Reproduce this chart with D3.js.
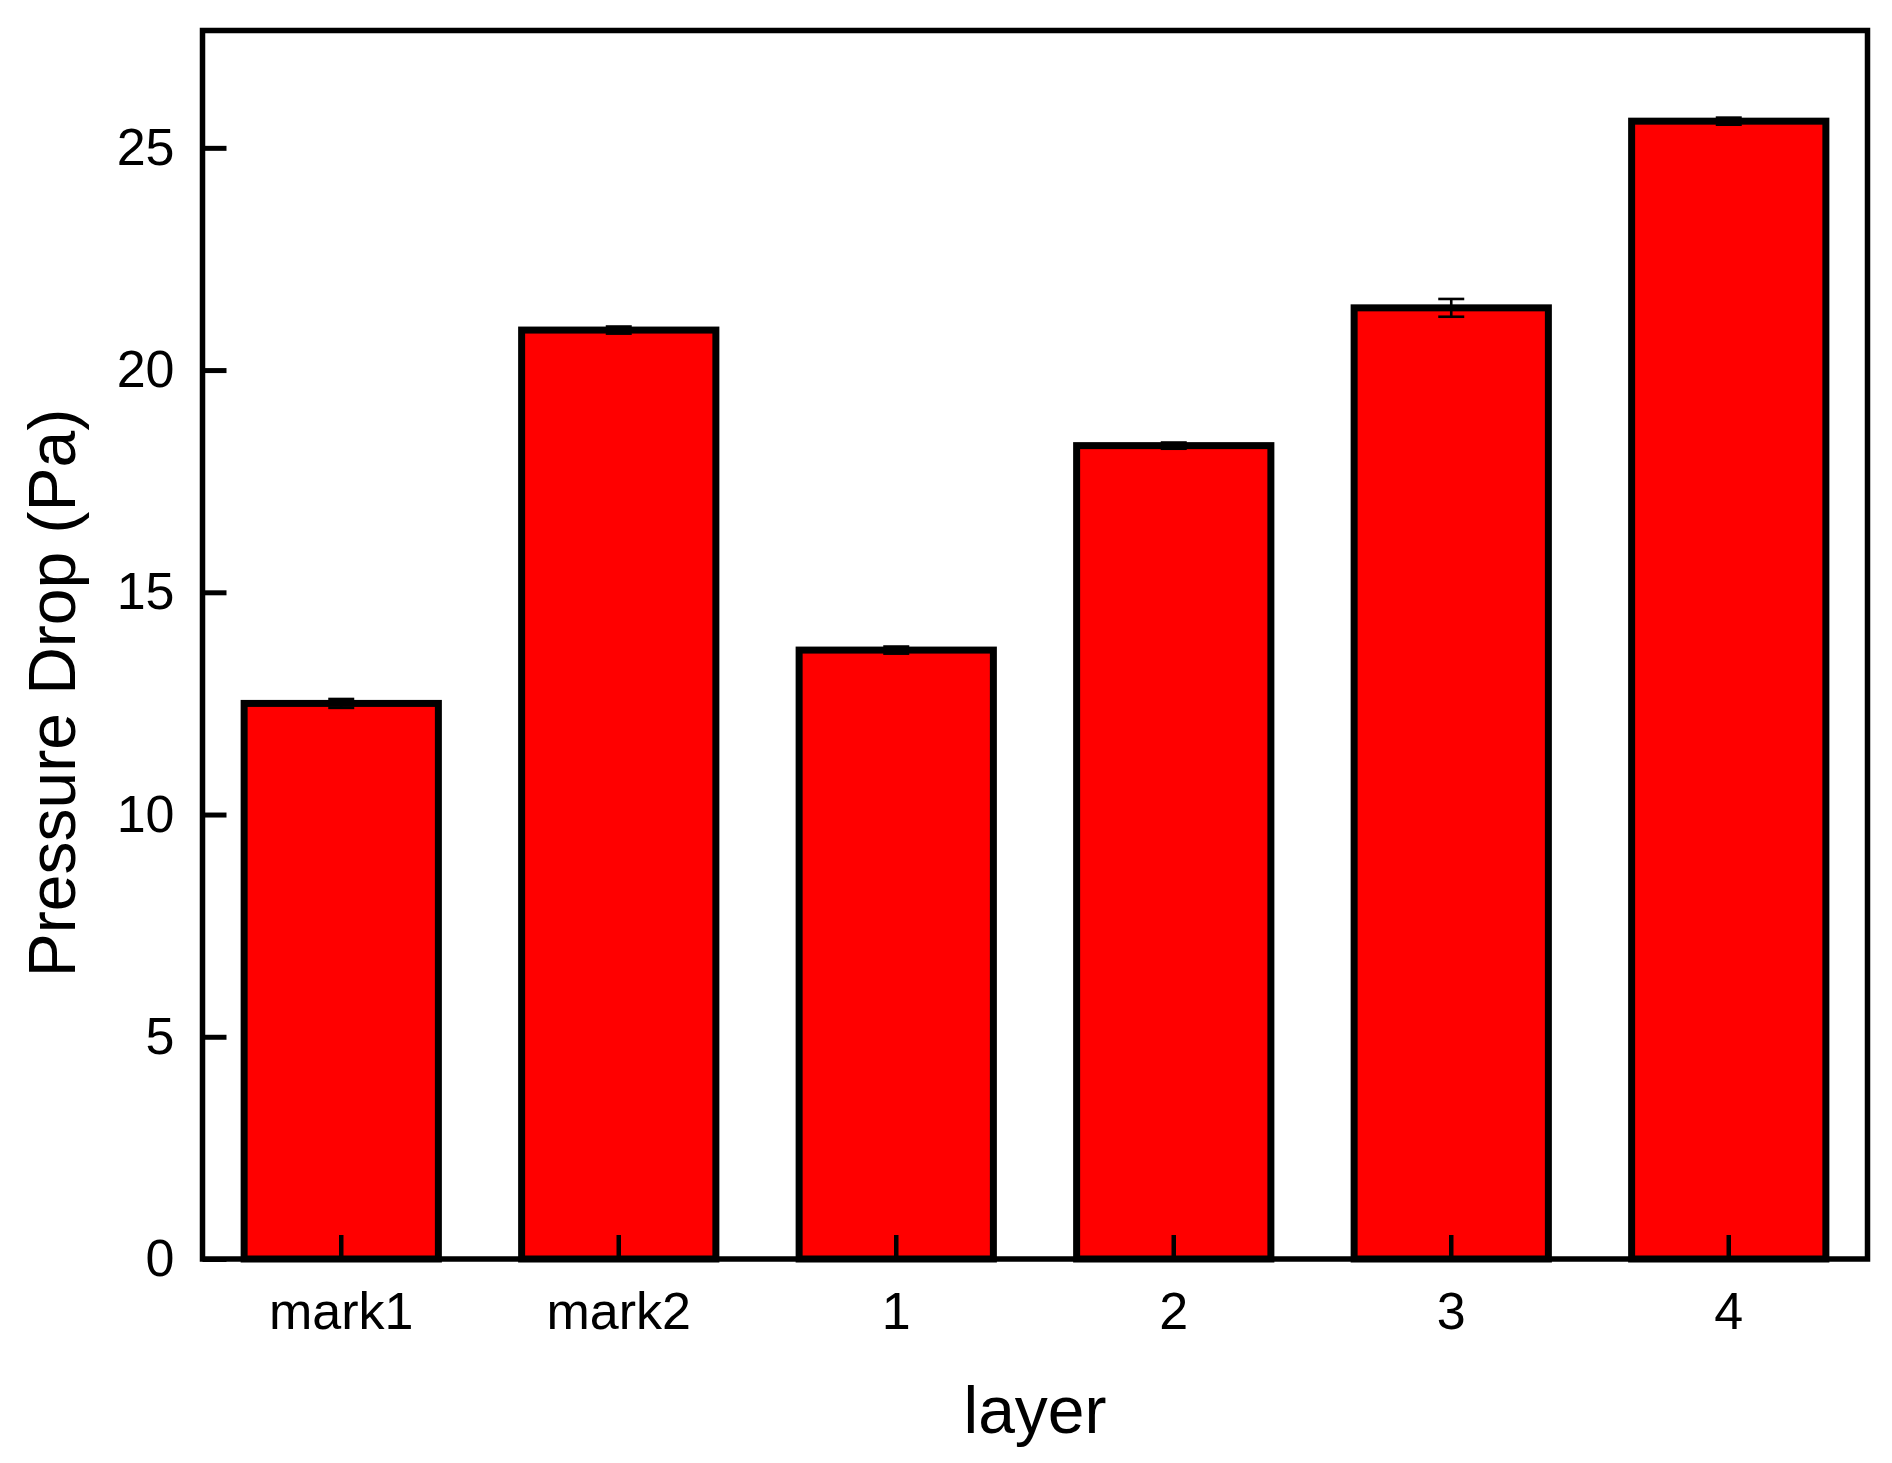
<!DOCTYPE html>
<html lang="en">
<head>
  <meta charset="UTF-8">
  <title>Pressure Drop by layer</title>
  <style>
    body { margin: 0; background: #fff; }
    svg text { font-family: "Liberation Sans", Arial, sans-serif; fill: #000; }
    .bar { fill: #ff0000; stroke: #000; stroke-width: 7px; }
    .err { stroke: #000; stroke-width: 2.6px; fill: none; }
    .frame { fill: none; stroke: #000; stroke-width: 5.5px; }
  </style>
</head>
<body>
<div id="chart"></div>
<script src="https://d3js.org/d3.v7.min.js"></script>
<script>
  // data
  var categories = ["mark1", "mark2", "1", "2", "3", "4"];
  var values = [12.5, 20.9, 13.7, 18.3, 21.4, 25.6];
  var errors = [0.1, 0.08, 0.08, 0.07, 0.2, 0.08];
  var yTicks = [0, 5, 10, 15, 20, 25];

  var width = 1892, height = 1463;
  // plot frame (note: "top" is a reserved window global, so use other names)
  var plotLeft = 202.5, plotRight = 1867.5, plotTop = 30.5, plotBottom = 1259;

  var svg = d3.select("#chart").append("svg")
    .attr("width", width)
    .attr("height", height);

  var x = d3.scaleBand()
    .domain(categories)
    .range([plotLeft, plotRight])
    .paddingInner(0.3)
    .paddingOuter(0.15);

  var y = d3.scaleLinear()
    .domain([0, 27.64])
    .range([plotBottom, plotTop]);

  var data = categories.map(function(c, i) {
    return { cat: c, value: values[i], err: errors[i] };
  });

  // bars
  svg.selectAll(".bar")
    .data(data)
    .enter().append("rect")
    .attr("class", "bar")
    .attr("x", function(d) { return x(d.cat); })
    .attr("width", x.bandwidth())
    .attr("y", function(d) { return y(d.value); })
    .attr("height", function(d) { return y(0) - y(d.value); });

  // error bars
  var capW = 13;
  var eb = svg.selectAll(".eb")
    .data(data)
    .enter().append("g")
    .attr("class", "eb");

  eb.append("line")
    .attr("class", "err")
    .attr("x1", function(d) { return x(d.cat) + x.bandwidth() / 2; })
    .attr("x2", function(d) { return x(d.cat) + x.bandwidth() / 2; })
    .attr("y1", function(d) { return y(d.value + d.err); })
    .attr("y2", function(d) { return y(d.value - d.err); });

  [1, -1].forEach(function(s) {
    eb.append("line")
      .attr("class", "err")
      .attr("x1", function(d) { return x(d.cat) + x.bandwidth() / 2 - capW; })
      .attr("x2", function(d) { return x(d.cat) + x.bandwidth() / 2 + capW; })
      .attr("y1", function(d) { return y(d.value + s * d.err); })
      .attr("y2", function(d) { return y(d.value + s * d.err); });
  });

  // axes (ticks point inward)
  var xAxis = svg.append("g")
    .attr("transform", "translate(0," + plotBottom + ")")
    .call(d3.axisBottom(x).tickSize(-24).tickPadding(33));

  var yAxis = svg.append("g")
    .attr("transform", "translate(" + plotLeft + ",0)")
    .call(d3.axisLeft(y).tickValues(yTicks).tickFormat(d3.format("d")).tickSize(-24).tickPadding(28));

  [xAxis, yAxis].forEach(function(g) {
    g.select(".domain").remove();
    g.selectAll("text").style("font-size", "52px").attr("fill", "#000")
      .style("font-family", "'Liberation Sans', Arial, sans-serif");
  });
  xAxis.selectAll(".tick line").attr("stroke", "#000").attr("stroke-width", 4.5);
  yAxis.selectAll(".tick line").attr("stroke", "#000").attr("stroke-width", 5);

  // frame
  svg.append("rect")
    .attr("class", "frame")
    .attr("x", plotLeft)
    .attr("y", plotTop)
    .attr("width", plotRight - plotLeft)
    .attr("height", plotBottom - plotTop);

  // axis titles
  svg.append("text")
    .attr("x", (plotLeft + plotRight) / 2)
    .attr("y", 1433)
    .attr("text-anchor", "middle")
    .style("font-size", "66px")
    .text("layer");

  svg.append("text")
    .attr("transform", "translate(75,693) rotate(-90)")
    .attr("text-anchor", "middle")
    .style("font-size", "66px")
    .text("Pressure Drop (Pa)");
</script>
</body>
</html>
